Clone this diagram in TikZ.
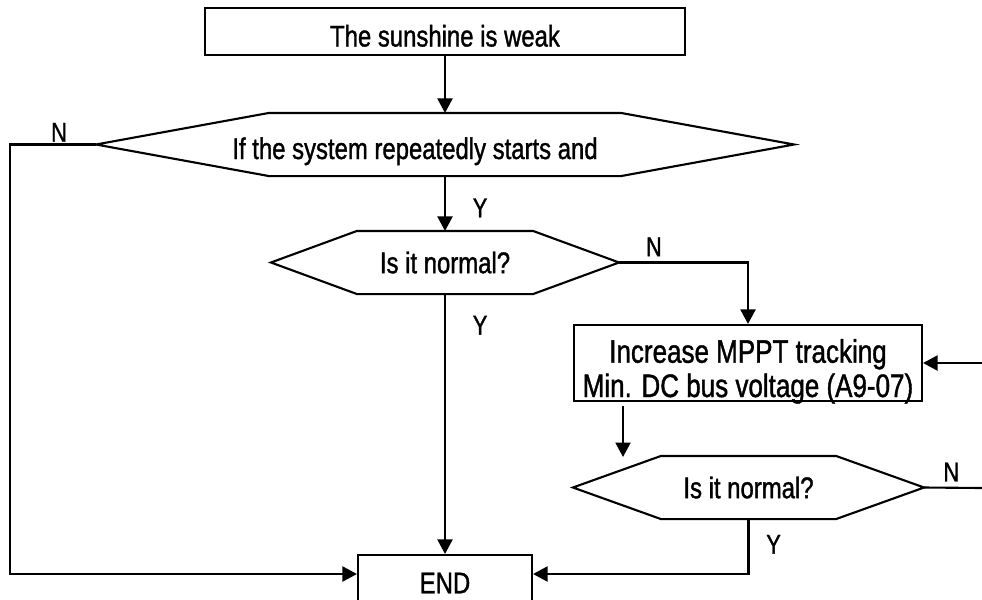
\documentclass[tikz,border=0pt]{standalone}
\usepackage{fontspec}
\setmainfont[FakeStretch=0.8,FakeBold=1.2]{Liberation Sans}
\usetikzlibrary{arrows.meta,calc,positioning}

\begin{document}
\begin{tikzpicture}[->,>={Triangle[length=0.29cm,width=0.3cm]},line width=1.2pt,
    every node/.style={font=\fontsize{17}{20}\selectfont},
    box/.style={draw,rectangle,align=center,inner sep=0.05cm},
    cond/.style={rectangle,minimum height=1.22cm,inner sep=0pt},
    lbl/.style={font=\fontsize{15.5}{17}\selectfont,inner sep=1pt}]
    \useasboundingbox (0,0) rectangle (19.64,-11.98);
    \clip (0,0) rectangle (19.64,-11.98);

    \node[box, minimum width=9.6cm, minimum height=0.94cm, text height=0.72cm, text depth=0.12cm] (Weak) at (8.9,-0.63) {The sunshine is weak};
    \node[cond, minimum width=7cm] (Q1) at (8.9,-2.89) {\makebox[0pt]{\hspace*{-1.2cm}\smash{\raisebox{-0.29cm}{If the system repeatedly starts and}}}};
    \node[cond, minimum width=3.48cm] (Q2) at (8.9,-5.25) {Is it normal?};
    \node[box, minimum width=6.96cm, minimum height=1.52cm, text height=1.36cm, text depth=0pt, inner ysep=0.08cm, font=\fontsize{18.5}{19.5}\selectfont] (MPPT) at (14.96,-7.26) {Increase MPPT tracking\\Min. DC bus voltage (A9-07)};
    \node[cond, minimum width=3.46cm] (Q3) at (14.97,-9.75) {Is it normal?};
    \node[box, minimum width=3.48cm, minimum height=1.12cm] (End) at (8.9,-11.66) {END};

    % tips of the decision shapes
    \coordinate (Q1w) at ($(Q1.west)+(-3.46,0)$);
    \coordinate (Q1e) at ($(Q1.east)+(3.46,0)$);
    \coordinate (Q2w) at ($(Q2.west)+(-1.72,0)$);
    \coordinate (Q2e) at ($(Q2.east)+(1.72,0)$);
    \coordinate (Q3w) at ($(Q3.west)+(-1.76,0)$);
    \coordinate (Q3e) at ($(Q3.east)+(1.76,0)$);
    \draw[-] (Q1.north west) -- (Q1w) -- (Q1.south west) -- (Q1.south east) -- (Q1e) -- (Q1.north east) -- cycle;
    \draw[-] (Q2.north west) -- (Q2w) -- (Q2.south west) -- (Q2.south east) -- (Q2e) -- (Q2.north east) -- cycle;
    \draw[-] (Q3.north west) -- (Q3w) -- (Q3.south west) -- (Q3.south east) -- (Q3e) -- (Q3.north east) -- cycle;

    % free ends
    \coordinate (c1) at (0.2,-11.48);
    \coordinate (c2) at (19.64,-7.26);
    \coordinate (a3) at (12.46,-9.14);
    \coordinate (c4) at (19.64,-9.76);

    \draw (Weak) -- (Q1.north);
    \draw (Q1.south) -- node[lbl, right=0.5cm, pos=0.58] {Y} (Q2.north);
    \draw (Q2.south) -- node[lbl, right=0.5cm, pos=0.12] {Y} (End.north);
    \draw (Q1w) -- node[lbl, above, pos=0.43] {N} (c1 |- Q1w) -- (c1) -- (c1 -| End.west);
    \draw (Q2e) -- node[lbl, above=2pt, pos=0.27] {N} (Q2e -| MPPT.north) -- (MPPT.north);
    \draw (c2) -- (MPPT.east);
    \draw ($(a3 |- MPPT.south)+(0,-0.08)$) -- (a3);
    \draw[-] (Q3e) -- node[lbl, above=2pt, pos=0.47] {N} (c4);
    \draw (Q3.south) -- node[lbl, right=0.3cm, pos=0.46] {Y} (Q3.south |- c1) -- (c1 -| End.east);
\end{tikzpicture}
\end{document}
